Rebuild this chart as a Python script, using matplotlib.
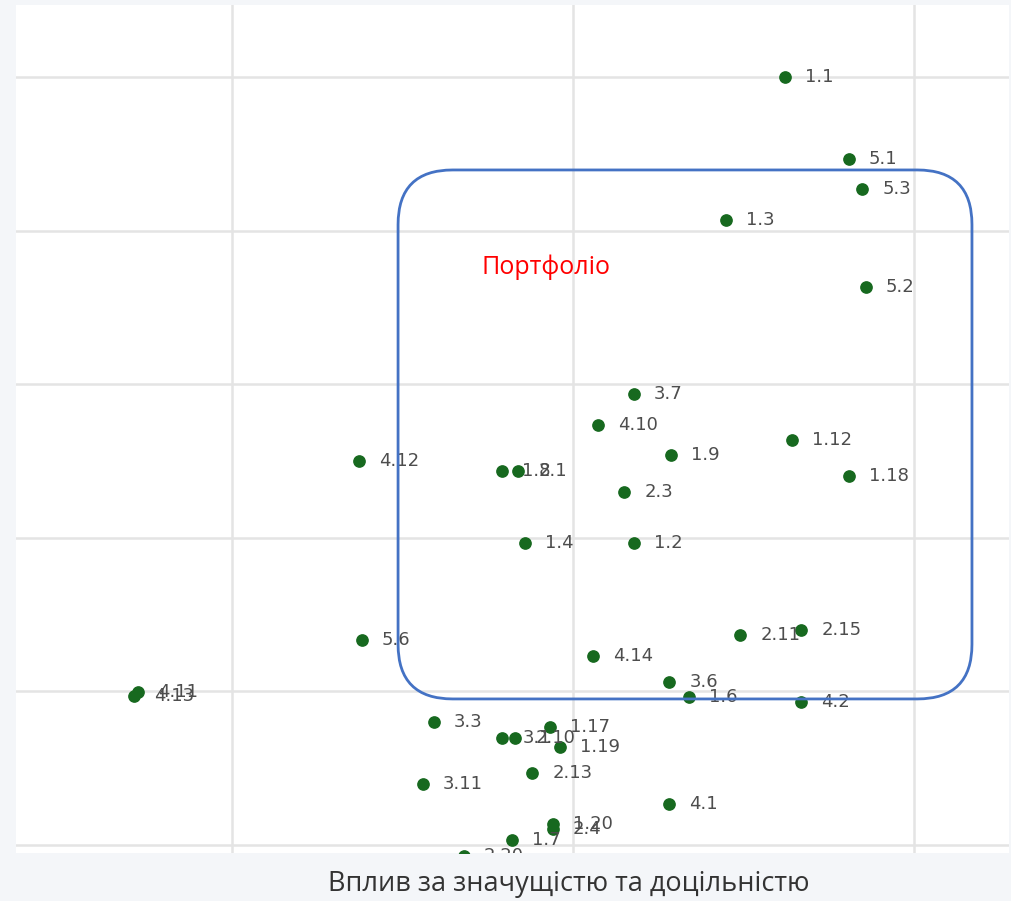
import matplotlib.pyplot as plt
from matplotlib.patches import FancyBboxPatch

labels = ['1.1', '5.1', '5.3', '1.3', '5.2', '3.7', '4.10', '1.12', '1.9', '4.12',
          '1.8', '2.1', '1.18', '2.3', '1.4', '1.2', '2.15', '2.11', '5.6', '4.14',
          '3.6', '4.11', '4.13', '1.6', '4.2', '3.3', '1.17', '3.1', '2.10', '1.19',
          '2.13', '3.11', '4.1', '1.20', '2.4', '1.7', '2.20']
x_vals = [2.622, 2.809, 2.848, 2.449, 2.859, 2.179, 2.073, 2.642, 2.287, 1.372,
          1.792, 1.839, 2.809, 2.150, 1.859, 2.179, 2.669, 2.490, 1.381, 2.059,
          2.282, 0.724, 0.713, 2.340, 2.669, 1.592, 1.933, 1.792, 1.830, 1.962,
          1.880, 1.560, 2.282, 1.941, 1.941, 1.821, 1.680]
y_vals = [6.000, 5.466, 5.271, 5.069, 4.633, 3.936, 3.734, 3.637, 3.539, 3.500,
          3.435, 3.435, 3.402, 3.298, 2.966, 2.966, 2.400, 2.367, 2.335, 2.230,
          2.061, 1.996, 1.970, 1.964, 1.931, 1.801, 1.768, 1.697, 1.697, 1.638,
          1.469, 1.397, 1.267, 1.137, 1.104, 1.033, 0.928]

# portfolio zone (data units)
zone_x = (1.487, 3.170)
zone_y = (1.951, 5.395)
zone_title = 'Портфоліо'
x_title = 'Вплив за значущістю та доцільністю'


def main():
    fig = plt.figure(figsize=(10.12, 9.01), dpi=100, facecolor='#f4f6f9')
    ax = fig.add_axes([16 / 1012, 48 / 901, 993 / 1012, 848 / 901])
    ax.set_facecolor('white')

    ax.set_xlim(0.3666, 3.2786)
    ax.set_ylim(0.948, 6.469)
    ax.set_xticks([1, 2, 3])
    ax.set_yticks([1, 2, 3, 4, 5, 6])
    ax.tick_params(length=0, labelleft=False, labelbottom=False)
    ax.grid(True, color='#e4e4e4', linewidth=1.8)
    ax.set_axisbelow(True)
    for s in ax.spines.values():
        s.set_visible(False)

    ax.scatter(x_vals, y_vals, s=66, color='#17691f', zorder=3)
    for lab, x, y in zip(labels, x_vals, y_vals):
        ax.annotate(lab, (x, y), xytext=(14.5, 0), textcoords='offset points',
                    va='center', ha='left', fontsize=13, color='#4d4d4d',
                    annotation_clip=False, clip_on=True, zorder=4)

    aspect = 341 / 153.6
    box = FancyBboxPatch((zone_x[0], zone_y[0]), zone_x[1] - zone_x[0],
                         zone_y[1] - zone_y[0],
                         boxstyle='round,pad=0,rounding_size=0.16',
                         mutation_aspect=aspect, facecolor='none',
                         edgecolor='#4472c4', linewidth=2, zorder=5)
    ax.add_patch(box)
    ax.text(1.921, 4.763, zone_title, color='red', fontsize=18,
            ha='center', va='center', family=['Open Sans', 'DejaVu Sans'])

    fig.text(569 / 1012, 1 - 884 / 901, x_title, ha='center', va='center',
             fontsize=19.5, color='#333333', family=['Open Sans', 'DejaVu Sans'])

    fig.savefig('out.png', dpi=100, facecolor=fig.get_facecolor())


if __name__ == '__main__':
    main()
